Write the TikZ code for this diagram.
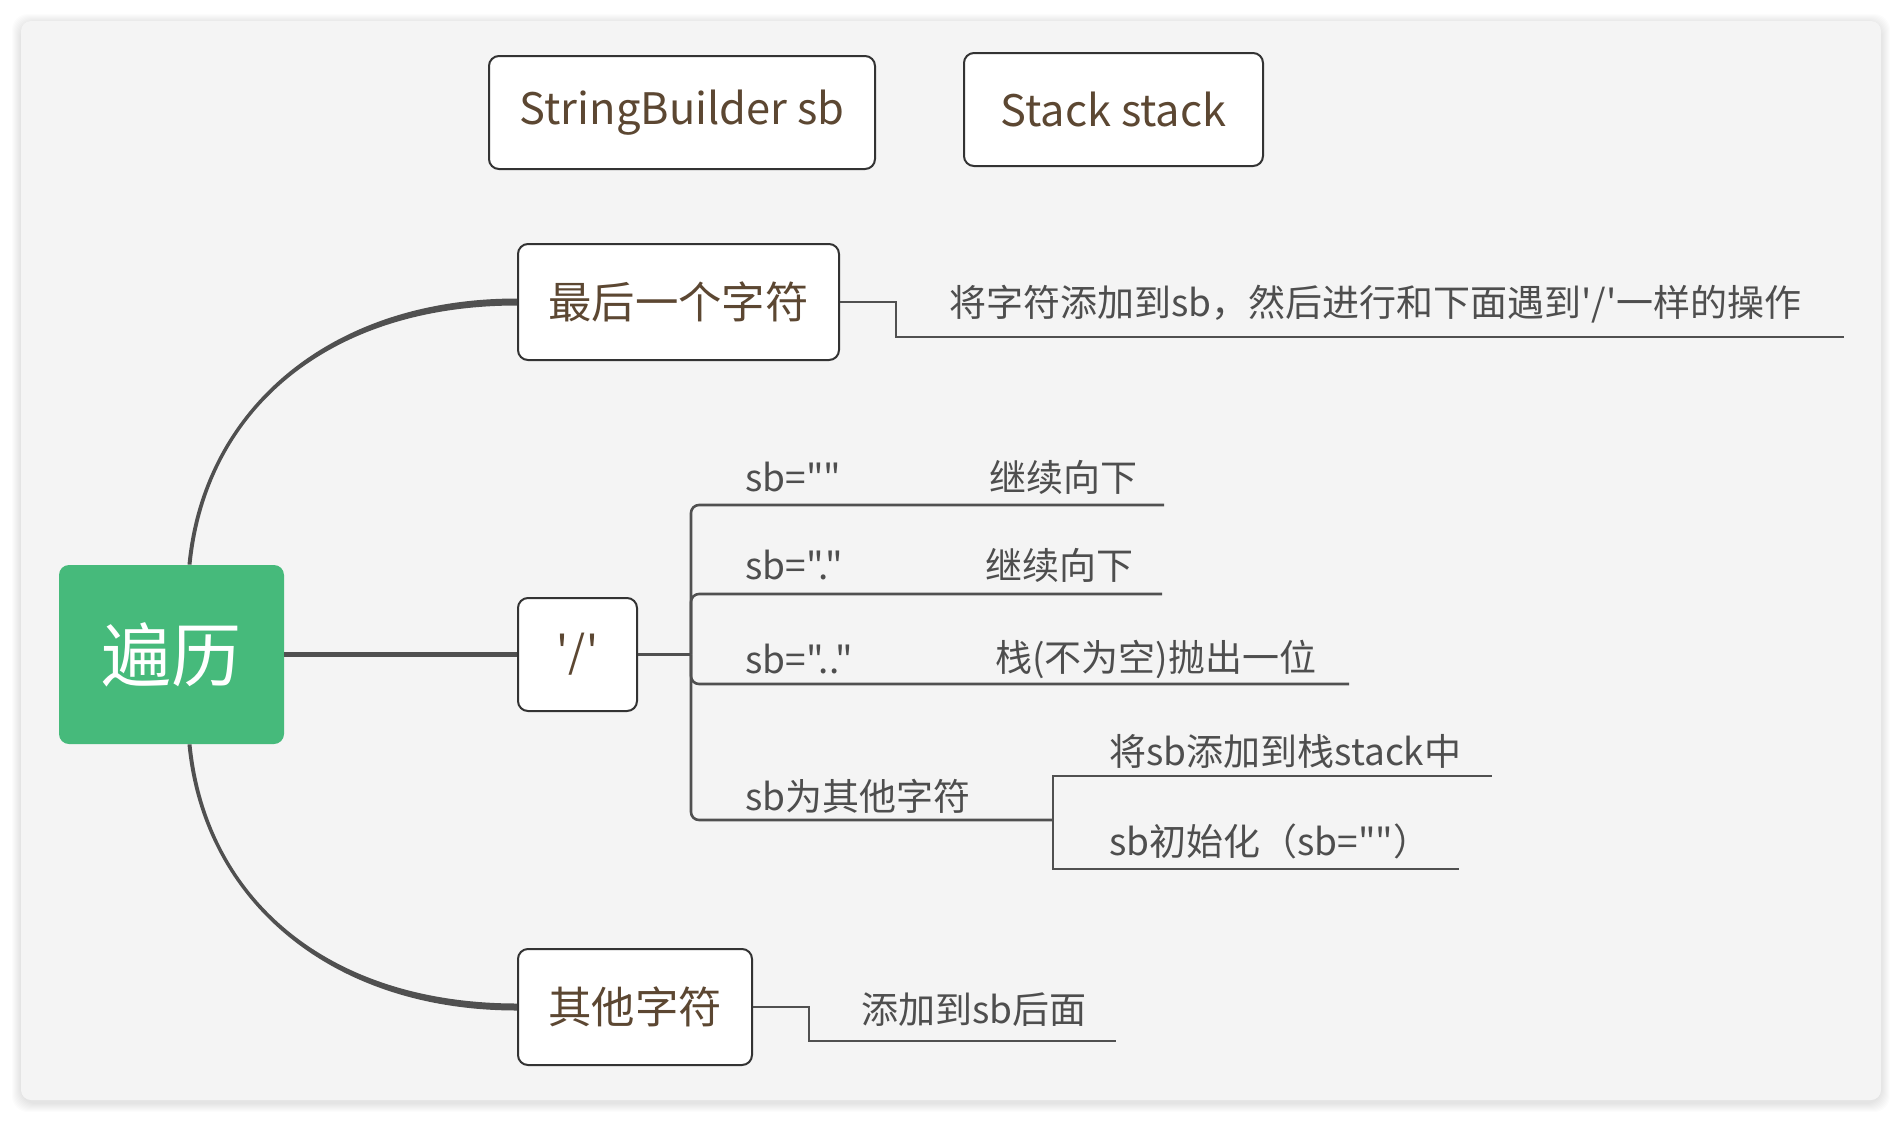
\documentclass[tikz,border=0pt]{standalone}
\usepackage{fontspec}
\newfontfamily\cjkfont{Noto Sans CJK SC}
\usetikzlibrary{calc}
\definecolor{cardbg}{RGB}{244,244,244}
\definecolor{rootgreen}{RGB}{70,186,123}
\definecolor{topictext}{RGB}{92,71,50}
\definecolor{subtext}{RGB}{78,78,78}
\definecolor{linecol}{RGB}{80,80,80}
\definecolor{boxborder}{RGB}{51,51,51}
\tikzset{
  rootbox/.style={fill=rootgreen, text=white, rounded corners=5pt, inner sep=0pt,
    minimum width=112.5pt, minimum height=89.5pt, font=\cjkfont\fontsize{35pt}{40pt}\selectfont},
  topicbox/.style={draw=boxborder, line width=1pt, fill=white, rounded corners=5pt, inner sep=0pt,
    text=topictext, font=\cjkfont\fontsize{21.7pt}{26pt}\selectfont},
  subtxt/.style={anchor=west, inner sep=0pt, text=subtext, font=\cjkfont\fontsize{18.5pt}{22pt}\selectfont},
  subline/.style={draw=linecol, line width=1.3pt},
  mainfill/.style={fill=linecol},
  mainline/.style={draw=linecol, line width=2.8pt}
}
\begin{document}
\begin{tikzpicture}[x=0.5pt, y=-0.5pt]
\useasboundingbox (0,0) rectangle (1902,1120);
\fill[white] (0,0) rectangle (1902,1120);
% card shadow
\foreach \i in {1,...,9}{
  \fill[black, opacity=0.013, rounded corners=8pt] (21-\i,21-\i+2) rectangle (1881+\i,1100+\i+3);
}
\fill[cardbg, rounded corners=5pt] (21,21) rectangle (1881,1100);

% nodes
\node[topicbox, minimum width=193pt, minimum height=56.5pt] (sbnode) at (682,112.5) {StringBuilder sb};
\node[topicbox, minimum width=149.5pt, minimum height=56.5pt] (stack) at (1113.5,109.5) {Stack stack};
\node[rootbox] (root) at (171.5,654.5) {遍历};
\node[topicbox, minimum width=160.5pt, minimum height=58pt] (last) at (678.5,302) {最后一个字符};
\node[topicbox, minimum width=59.5pt, minimum height=56.5pt] (slash) at (577.5,654.5) {'/'};
\node[topicbox, minimum width=117pt, minimum height=58pt] (other) at (635,1007) {其他字符};

% main connectors
\fill[mainfill] ($(root.north)+(16,0)$) .. controls ($(root.north)+(31,-155)$) and ($(last.west)+(-188,-3.5)$) .. ($(last.west)+(0,-3.5)$)
  -- ($(last.west)+(0,3.5)$) .. controls ($(last.west)+(-188,3.5)$) and ($(root.north)+(35,-155)$) .. ($(root.north)+(20,0)$) -- cycle;
\fill[mainfill] ($(root.south)+(16,0)$) .. controls ($(root.south)+(31,155)$) and ($(other.west)+(-188,3.5)$) .. ($(other.west)+(0,3.5)$)
  -- ($(other.west)+(0,-3.5)$) .. controls ($(other.west)+(-188,-3.5)$) and ($(root.south)+(35,155)$) .. ($(root.south)+(20,0)$) -- cycle;
\draw[mainline] (root.east) -- (slash.west);

% last char branch
\coordinate (lastend) at (1844,337);
\draw[subline] (last.east) -- ++(56,0) |- (lastend);
\node[subtxt] (lasttxt) at (949,304) {将字符添加到sb，然后进行和下面遇到'/'一样的操作};

% slash branches
\coordinate (J) at (691,654.5);
\coordinate (e1) at (1164,505);
\coordinate (e2) at (1162,594);
\coordinate (e3) at (1349,684);
\coordinate (K) at (1053,820);
\draw[subline] (slash.east) -- (J);
\draw[subline, rounded corners=4pt] (J) |- (e1);
\draw[subline, rounded corners=4pt] (J) |- (e2);
\draw[subline, rounded corners=4pt] (J) |- (e3);
\draw[subline, rounded corners=4pt] (J) |- (K);
\node[subtxt] (t1a) at (745,477) {sb=""};
\node[subtxt] (t1b) at (989,477) {继续向下};
\node[subtxt] (t2a) at (745,565) {sb="."};
\node[subtxt] (t2b) at (985,565) {继续向下};
\node[subtxt] (t3a) at (745,659) {sb=".."};
\node[subtxt] (t3b) at (995,659) {栈(不为空)抛出一位};
\node[subtxt] (t4a) at (745,796) {sb为其他字符};

% sub-branches of sb为其他字符
\coordinate (f1) at (1492,776);
\coordinate (f2) at (1459,869);
\draw[subline] (K) |- (f1);
\draw[subline] (K) |- (f2);
\node[subtxt] (u1) at (1109,751) {将sb添加到栈stack中};
\node[subtxt] (u2) at (1109,841) {sb初始化（sb=""）};

% other branch
\coordinate (otherend) at (1116,1041);
\draw[subline] (other.east) -- ++(56,0) |- (otherend);
\node[subtxt] (othertxt) at (861,1010) {添加到sb后面};
\end{tikzpicture}
\end{document}
